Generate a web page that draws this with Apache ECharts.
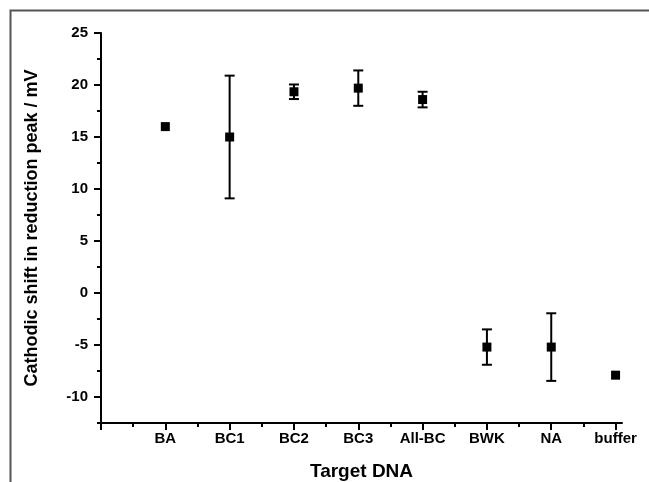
<!DOCTYPE html>
<html>
<head>
<meta charset="utf-8">
<style>
  html, body { margin: 0; padding: 0; background: #fff; }
  #main { width: 649px; height: 482px; }
</style>
<script src="https://cdn.jsdelivr.net/npm/echarts@6/dist/echarts.min.js"></script>
</head>
<body>
<div id="main"></div>
<script>
// target DNA categories, placed at x = 1..8
var categories = ['BA', 'BC1', 'BC2', 'BC3', 'All-BC', 'BWK', 'NA', 'buffer'];
// cathodic shift (mV) and error bar half-width
var shift = [16.0, 15.0, 19.35, 19.7, 18.6, -5.2, -5.2, -7.9];
var errors = [0, 5.9, 0.7, 1.7, 0.75, 1.7, 3.25, 0];
// tick labels
var yTicks = [-10, -5, 0, 5, 10, 15, 20, 25];
var yMinor = [-12.5, -7.5, -2.5, 2.5, 7.5, 12.5, 17.5, 22.5];
var xTicks = [0, 1, 2, 3, 4, 5, 6, 7, 8];
var xMinor = [0.5, 1.5, 2.5, 3.5, 4.5, 5.5, 6.5, 7.5];

var points = categories.map(function (c, i) { return [i + 1, shift[i]]; });
var bars = categories.map(function (c, i) { return [i + 1, shift[i], errors[i]]; });

var myChart = echarts.init(document.getElementById('main'));

var fontFamily = '"Liberation Sans", Arial, sans-serif';
var lineStyle = { color: '#000', width: 2 };

var option = {
  backgroundColor: '#fff',
  animation: false,
  graphic: [{
    type: 'rect',
    shape: { x: 10.5, y: 10.5, width: 800, height: 600 },
    style: { fill: 'none', stroke: '#555', lineWidth: 2 },
    silent: true
  }],
  grid: { left: 101, right: 27, top: 33, bottom: 59, containLabel: false, outerBoundsMode: 'none' },
  xAxis: [{
    type: 'value',
    min: 0,
    max: 8.1,
    name: 'Target DNA',
    nameLocation: 'middle',
    nameGap: 39,
    nameTextStyle: { fontFamily: fontFamily, fontWeight: 'bold', fontSize: 19, color: '#000' },
    axisLine: { show: true, onZero: false, lineStyle: lineStyle },
    axisTick: { show: true, inside: false, length: 7, lineStyle: lineStyle, customValues: xTicks },
    axisLabel: {
      customValues: [1, 2, 3, 4, 5, 6, 7, 8],
      margin: 8,
      fontFamily: fontFamily, fontWeight: 'bold', fontSize: 15, color: '#000',
      formatter: function (v) { return categories[Math.round(v) - 1] || ''; }
    },
    splitLine: { show: false }
  }, {
    type: 'value',
    min: 0,
    max: 8.1,
    position: 'bottom',
    axisLine: { show: false, onZero: false },
    axisTick: { show: true, inside: false, length: 4, lineStyle: lineStyle, customValues: xMinor },
    axisLabel: { show: false },
    splitLine: { show: false }
  }],
  yAxis: [{
    type: 'value',
    min: -12.5,
    max: 25,
    name: 'Cathodic shift in reduction peak / mV',
    nameLocation: 'middle',
    nameGap: 60,
    nameTextStyle: { fontFamily: fontFamily, fontWeight: 'bold', fontSize: 18, color: '#000' },
    axisLine: { show: true, onZero: false, lineStyle: lineStyle },
    axisTick: { show: true, inside: false, length: 7, lineStyle: lineStyle, customValues: yTicks },
    axisLabel: {
      customValues: yTicks,
      margin: 13,
      fontFamily: fontFamily, fontWeight: 'bold', fontSize: 15, color: '#000'
    },
    splitLine: { show: false }
  }, {
    type: 'value',
    min: -12.5,
    max: 25,
    position: 'left',
    axisLine: { show: false, onZero: false },
    axisTick: { show: true, inside: false, length: 4, lineStyle: lineStyle, customValues: yMinor },
    axisLabel: { show: false },
    splitLine: { show: false }
  }],
  series: [{
    type: 'custom',
    name: 'error',
    xAxisIndex: 0,
    yAxisIndex: 0,
    data: bars,
    z: 1,
    renderItem: function (params, api) {
      var x = api.value(0), y = api.value(1), e = api.value(2);
      if (!e) { return null; }
      var top = api.coord([x, y + e]);
      var bot = api.coord([x, y - e]);
      var hw = 5;
      var st = { stroke: '#000', lineWidth: 2 };
      return {
        type: 'group',
        children: [
          { type: 'line', shape: { x1: top[0], y1: top[1], x2: bot[0], y2: bot[1] }, style: st },
          { type: 'line', shape: { x1: top[0] - hw, y1: top[1], x2: top[0] + hw, y2: top[1] }, style: st },
          { type: 'line', shape: { x1: bot[0] - hw, y1: bot[1], x2: bot[0] + hw, y2: bot[1] }, style: st }
        ]
      };
    }
  }, {
    type: 'scatter',
    name: 'shift',
    xAxisIndex: 0,
    yAxisIndex: 0,
    data: points,
    symbol: 'rect',
    symbolSize: 9,
    itemStyle: { color: '#000', opacity: 1 },
    z: 2
  }]
};

myChart.setOption(option);
</script>
</body>
</html>
